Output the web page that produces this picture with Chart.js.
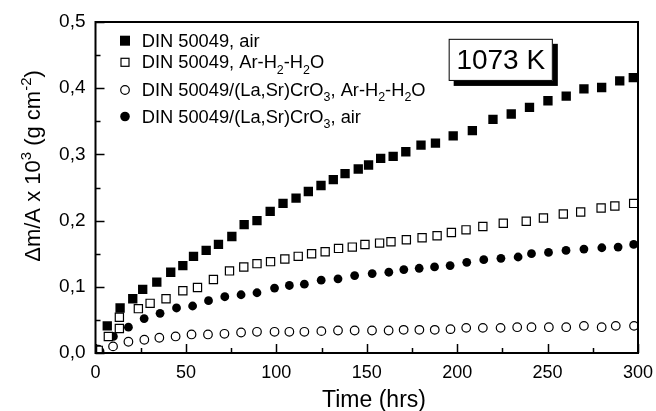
<!DOCTYPE html>
<html>
<head>
<meta charset="utf-8">
<script src="https://cdn.jsdelivr.net/npm/chart.js@4.4.1/dist/chart.umd.min.js"></script>
<style>
  html, body { margin: 0; padding: 0; background: #fff; }
  #wrap { width: 656px; height: 411px; position: relative; }
</style>
</head>
<body>
<div id="wrap"><canvas id="chart"></canvas></div>
<script>
// DIN 50049, air (filled squares)
const airX = [6.5, 13.6, 20.6, 26.1, 33.9, 41.6, 48.3, 54.2, 61.2, 68, 75.4, 82.2, 89.3, 96.6, 103.7, 110.9, 117.7, 124.7, 131.5, 138, 145.3, 151, 157.7, 164.6, 171.6, 180, 188, 197.8, 208.4, 219.8, 229.9, 240, 250.2, 260.3, 270.1, 279.9, 289.9, 297.4];
const airY = [0.041, 0.068, 0.082, 0.096, 0.107, 0.122, 0.132, 0.146, 0.155, 0.164, 0.176, 0.194, 0.200, 0.214, 0.226, 0.234, 0.244, 0.253, 0.262, 0.271, 0.278, 0.284, 0.294, 0.297, 0.304, 0.314, 0.317, 0.328, 0.336, 0.353, 0.361, 0.371, 0.381, 0.388, 0.399, 0.401, 0.411, 0.416];

// DIN 50049, Ar-H2-H2O (open squares)
const arX = [1.5, 7.1, 13.2, 13.2, 23.7, 30.2, 39, 48.3, 56.4, 65.2, 74.1, 82, 89.3, 96.8, 104.7, 112.1, 119.5, 127, 134.4, 142, 149, 157.1, 163.4, 171.9, 180.6, 188.9, 196.8, 204.9, 214.2, 225.5, 238.2, 247.7, 258.7, 268.3, 279.6, 287.2, 297.6];
const arY = [0.004, 0.025, 0.037, 0.054, 0.067, 0.075, 0.082, 0.094, 0.099, 0.111, 0.124, 0.130, 0.135, 0.138, 0.142, 0.146, 0.150, 0.153, 0.158, 0.160, 0.164, 0.166, 0.168, 0.171, 0.174, 0.177, 0.182, 0.186, 0.191, 0.196, 0.199, 0.204, 0.210, 0.213, 0.219, 0.222, 0.226];

// DIN 50049/(La,Sr)CrO3, Ar-H2-H2O (open circles)
const coatArX = [1.6, 9.7, 18.2, 27, 35.3, 44.3, 53.1, 62.2, 71.3, 80.5, 89.3, 99, 107.2, 115.5, 124.9, 134.1, 143.3, 152.9, 162.1, 170.4, 179.1, 187.6, 196.3, 205, 214.2, 224, 233.2, 241.1, 250.7, 260.3, 270.1, 279.9, 287.7, 297.8];
const coatArY = [0.005, 0.010, 0.017, 0.020, 0.023, 0.025, 0.028, 0.028, 0.029, 0.031, 0.032, 0.032, 0.032, 0.032, 0.033, 0.034, 0.034, 0.034, 0.034, 0.035, 0.035, 0.035, 0.036, 0.038, 0.038, 0.038, 0.039, 0.039, 0.039, 0.039, 0.041, 0.039, 0.041, 0.041];

// DIN 50049/(La,Sr)CrO3, air (filled circles)
const coatAirX = [2.5, 9.9, 18.2, 26.9, 35.7, 44.8, 53.7, 62.5, 71.5, 80.5, 89.3, 99, 107.2, 115.5, 124.8, 134.1, 143.3, 153, 162.2, 170.5, 179, 187.5, 196.1, 205.3, 214.7, 224.2, 233.7, 241.1, 250.5, 260.2, 270.1, 280, 289, 297.6];
const coatAirY = [0.003, 0.025, 0.039, 0.052, 0.060, 0.068, 0.071, 0.079, 0.085, 0.088, 0.091, 0.098, 0.102, 0.104, 0.110, 0.112, 0.117, 0.120, 0.122, 0.126, 0.128, 0.130, 0.132, 0.137, 0.141, 0.143, 0.145, 0.150, 0.152, 0.155, 0.157, 0.159, 0.160, 0.164];

const xTicks = [0, 50, 100, 150, 200, 250, 300];
const yTicks = [0, 0.1, 0.2, 0.3, 0.4, 0.5];

const FONT = '"Liberation Sans", Arial, Helvetica, sans-serif';

const pts = (xs, ys) => xs.map((x, i) => ({x: x, y: ys[i]}));

// text with sub/superscripts: parts are strings or {t, s: 'sub'|'sup'}
const richWidth = (ctx, parts, size) => {
    let w = 0;
    parts.forEach(p => {
        if (typeof p === 'string') { ctx.font = size + 'px ' + FONT; w += ctx.measureText(p).width; }
        else { ctx.font = (size * 0.68) + 'px ' + FONT; w += ctx.measureText(p.t).width; }
    });
    return w;
};
const drawRich = (ctx, parts, x, y, size) => {
    ctx.textBaseline = 'alphabetic';
    ctx.textAlign = 'left';
    parts.forEach(p => {
        if (typeof p === 'string') {
            ctx.font = size + 'px ' + FONT;
            ctx.fillText(p, x, y);
            x += ctx.measureText(p).width;
        } else {
            ctx.font = (size * 0.68) + 'px ' + FONT;
            const dy = p.s === 'sub' ? size * 0.3 : -size * 0.42;
            ctx.fillText(p.t, x, y + dy);
            x += ctx.measureText(p.t).width;
        }
    });
};

const legendRows = [
    {kind: 'fsq', y: 46.7, parts: ['DIN 50049, air']},
    {kind: 'osq', y: 68.3, parts: ['DIN 50049, Ar-H', {t: '2', s: 'sub'}, '-H', {t: '2', s: 'sub'}, 'O']},
    {kind: 'oci', y: 96, parts: ['DIN 50049/(La,Sr)CrO', {t: '3', s: 'sub'}, ', Ar-H', {t: '2', s: 'sub'}, '-H', {t: '2', s: 'sub'}, 'O']},
    {kind: 'fci', y: 122.5, parts: ['DIN 50049/(La,Sr)CrO', {t: '3', s: 'sub'}, ', air']}
];

const decor = {
    id: 'decor',
    afterDatasetsDraw(chart) {
        const ctx = chart.ctx;
        const a = chart.chartArea;
        const xs = chart.scales.x, ys = chart.scales.y;
        ctx.save();
        ctx.strokeStyle = '#000';
        ctx.lineWidth = 2;
        ctx.strokeRect(a.left, a.top, a.right - a.left, a.bottom - a.top);
        ctx.lineWidth = 1.5;
        ctx.beginPath();
        for (let v = 0; v <= 300; v += 25) {
            const px = Math.round(xs.getPixelForValue(v)) + 0.5;
            const len = v % 50 === 0 ? 9 : 5;
            ctx.moveTo(px, a.bottom);
            ctx.lineTo(px, a.bottom - len);
        }
        for (let i = 0; i <= 10; i++) {
            const v = i * 0.05;
            const py = Math.round(ys.getPixelForValue(v)) + 0.5;
            const len = i % 2 === 0 ? 9 : 5;
            ctx.moveTo(a.left, py);
            ctx.lineTo(a.left + len, py);
        }
        ctx.stroke();
        ctx.restore();
    },
    afterDraw(chart) {
        const ctx = chart.ctx;
        const xs = chart.scales.x, ys = chart.scales.y;
        ctx.save();
        ctx.fillStyle = '#000';
        ctx.strokeStyle = '#000';

        // legend
        const mx = 125;
        legendRows.forEach(r => {
            const cy = r.y - 6;
            ctx.lineWidth = 1.2;
            if (r.kind === 'fsq') ctx.fillRect(mx - 5, cy - 5, 10, 10);
            if (r.kind === 'osq') ctx.strokeRect(mx - 4, cy - 4, 8, 8);
            if (r.kind === 'oci') { ctx.beginPath(); ctx.arc(mx, cy, 4.3, 0, Math.PI * 2); ctx.stroke(); }
            if (r.kind === 'fci') { ctx.beginPath(); ctx.arc(mx, cy, 4.8, 0, Math.PI * 2); ctx.fill(); }
            drawRich(ctx, r.parts, 141.7, r.y, 18.3);
        });

        // temperature box
        const bx = xs.getPixelForValue(195.3), bx2 = xs.getPixelForValue(252.9);
        const by = ys.getPixelForValue(0.4746), by2 = ys.getPixelForValue(0.411);
        ctx.fillRect(bx + 5, by + 5, bx2 - bx, by2 - by);
        ctx.fillStyle = '#fff';
        ctx.fillRect(bx, by, bx2 - bx, by2 - by);
        ctx.lineWidth = 1;
        ctx.strokeRect(bx + 0.5, by + 0.5, bx2 - bx - 1, by2 - by - 1);
        ctx.fillStyle = '#000';
        ctx.font = '28px ' + FONT;
        ctx.textAlign = 'center';
        ctx.textBaseline = 'middle';
        ctx.fillText('1073 K', (bx + bx2) / 2, (by + by2) / 2 + 1);

        // x title
        ctx.font = '23px ' + FONT;
        ctx.textAlign = 'center';
        ctx.textBaseline = 'alphabetic';
        ctx.fillText('Time (hrs)', 374, 406.5);

        // y title (rotated)
        const yParts = ['\u0394m/A x 10', {t: '3', s: 'sup'}, ' (g cm', {t: '-2', s: 'sup'}, ')'];
        const w = richWidth(ctx, yParts, 22);
        ctx.translate(40, 166);
        ctx.rotate(-Math.PI / 2);
        drawRich(ctx, yParts, -w / 2, 0, 22);
        ctx.restore();
    }
};

const tickFont = {family: FONT, size: 18};

new Chart(document.getElementById('chart'), {
    type: 'scatter',
    data: {
        datasets: [
            {
                label: 'DIN 50049, air',
                data: pts(airX, airY),
                pointStyle: 'rect',
                pointRadius: 6.6,
                backgroundColor: '#000',
                borderColor: '#000',
                borderWidth: 0
            },
            {
                label: 'DIN 50049, Ar-H2-H2O',
                data: pts(arX, arY),
                pointStyle: 'rect',
                pointRadius: 5.8,
                backgroundColor: '#fff',
                borderColor: '#000',
                borderWidth: 1.2
            },
            {
                label: 'DIN 50049/(La,Sr)CrO3, Ar-H2-H2O',
                data: pts(coatArX, coatArY),
                pointStyle: 'circle',
                pointRadius: 4.3,
                backgroundColor: '#fff',
                borderColor: '#000',
                borderWidth: 1.2
            },
            {
                label: 'DIN 50049/(La,Sr)CrO3, air',
                data: pts(coatAirX, coatAirY),
                pointStyle: 'circle',
                pointRadius: 4.4,
                backgroundColor: '#000',
                borderColor: '#000',
                borderWidth: 0
            }
        ]
    },
    options: {
        responsive: true,
        maintainAspectRatio: false,
        animation: false,
        devicePixelRatio: 1,
        layout: {
            padding: {left: 0, top: 22, right: 18, bottom: 0}
        },
        plugins: {
            legend: {display: false},
            tooltip: {enabled: false}
        },
        scales: {
            x: {
                type: 'linear',
                min: 0,
                max: 300,
                afterFit: s => { s.height = 58; s.paddingLeft = 0; s.paddingRight = 0; },
                afterBuildTicks: s => { s.ticks = xTicks.map(v => ({value: v})); },
                grid: {display: false, drawTicks: false},
                border: {display: false},
                ticks: {
                    font: tickFont,
                    color: '#000',
                    padding: 9,
                    maxRotation: 0,
                    callback: v => String(v)
                }
            },
            y: {
                type: 'linear',
                min: 0,
                max: 0.5,
                afterFit: s => { s.width = 95.5; s.paddingTop = 0; s.paddingBottom = 0; },
                afterBuildTicks: s => { s.ticks = yTicks.map(v => ({value: v})); },
                grid: {display: false, drawTicks: false},
                border: {display: false},
                ticks: {
                    font: {family: FONT, size: 19},
                    color: '#000',
                    padding: 10,
                    callback: v => v.toFixed(1).replace('.', ',')
                }
            }
        }
    },
    plugins: [decor]
});
</script>
</body>
</html>
